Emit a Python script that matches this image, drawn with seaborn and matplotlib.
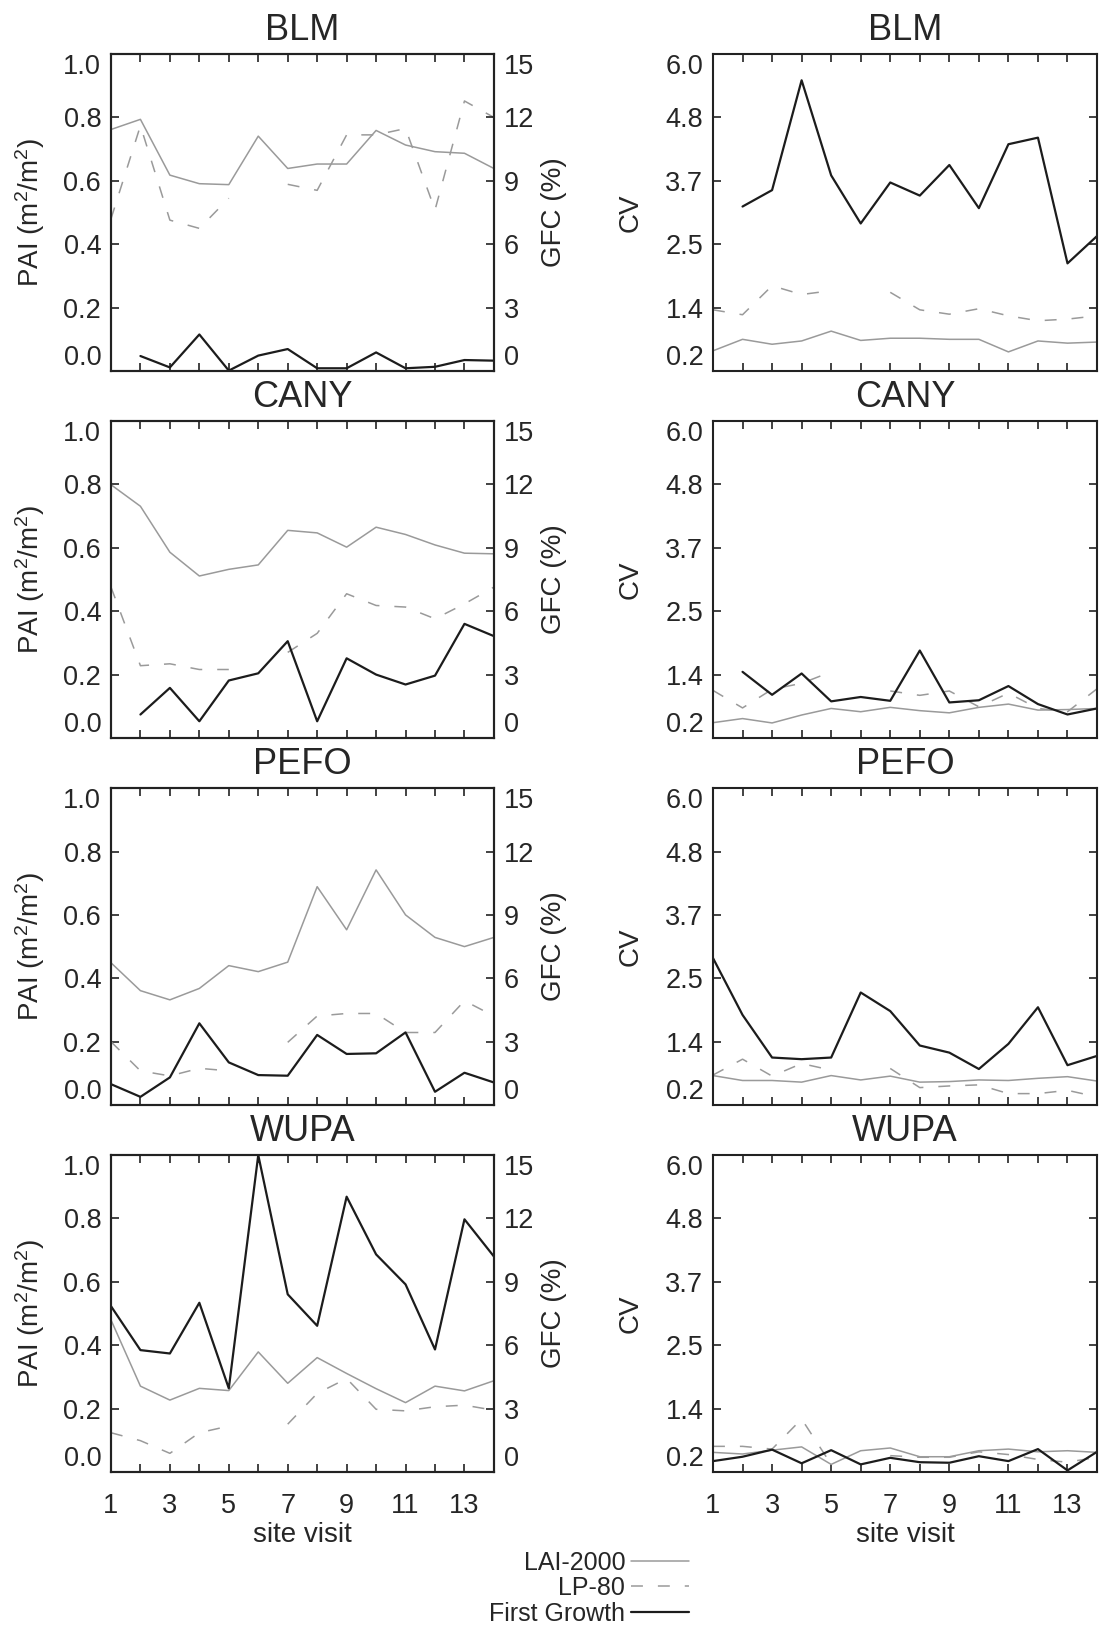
import numpy as np
import pandas as pd
import matplotlib
matplotlib.use("Agg")
import matplotlib.pyplot as plt
import seaborn as sns
from matplotlib.lines import Line2D

nan = np.nan

# ---------------- data ----------------
visits = list(range(1, 15))
sites = ["BLM", "CANY", "PEFO", "WUPA"]
series_names = ["LAI-2000", "LP-80", "First Growth"]

# PAI (m2/m2) from LAI-2000 and LP-80, GFC (%) from First Growth
pai_lai_blm = [0.762, 0.794, 0.618, 0.591, 0.588, 0.741, 0.639, 0.653, 0.653, 0.759, 0.713, 0.692, 0.687, 0.639]
pai_lp_blm = [0.48, 0.774, 0.476, 0.45, 0.545, nan, 0.589, 0.57, 0.745, 0.745, 0.765, 0.508, 0.852, 0.80]
gfc_fg_blm = [nan, 0.71, 0.17, 1.73, 0.02, 0.73, 1.04, 0.13, 0.13, 0.88, 0.13, 0.20, 0.52, 0.49]

pai_lai_cany = [0.799, 0.731, 0.586, 0.511, 0.532, 0.546, 0.655, 0.647, 0.602, 0.665, 0.642, 0.609, 0.583, 0.581]
pai_lp_cany = [0.476, 0.228, 0.234, 0.216, 0.216, nan, 0.27, 0.33, 0.455, 0.418, 0.413, 0.376, 0.423, 0.476]
gfc_fg_cany = [nan, 1.11, 2.37, 0.79, 2.72, 3.06, 4.58, 0.79, 3.77, 3.00, 2.53, 2.95, 5.40, 4.82]

pai_lai_pefo = [0.449, 0.361, 0.332, 0.368, 0.44, 0.421, 0.451, 0.689, 0.553, 0.742, 0.60, 0.529, 0.50, 0.529]
pai_lp_pefo = [0.20, 0.108, 0.092, 0.116, 0.108, nan, 0.198, 0.281, 0.289, 0.289, 0.229, 0.229, 0.329, 0.281]
gfc_fg_pefo = [0.99, 0.39, 1.31, 3.87, 2.02, 1.42, 1.39, 3.32, 2.42, 2.45, 3.44, 0.63, 1.53, 1.07]

pai_lai_wupa = [0.48, 0.271, 0.227, 0.264, 0.257, 0.379, 0.28, 0.361, 0.311, 0.263, 0.219, 0.271, 0.256, 0.288]
pai_lp_wupa = [0.124, 0.099, 0.059, 0.124, 0.145, nan, 0.151, 0.248, 0.295, 0.198, 0.193, 0.206, 0.211, 0.195]
gfc_fg_wupa = [7.85, 5.77, 5.61, 8.01, 3.96, 15.0, 8.41, 6.92, 13.03, 10.3, 8.88, 5.80, 11.96, 10.2]

# CV
cv_lai_blm = [0.57, 0.78, 0.69, 0.75, 0.93, 0.76, 0.80, 0.80, 0.78, 0.78, 0.55, 0.75, 0.71, 0.73]
cv_lp_blm = [1.32, 1.23, 1.76, 1.60, 1.67, nan, 1.64, 1.32, 1.24, 1.34, 1.21, 1.12, 1.15, 1.21]
cv_fg_blm = [nan, 3.21, 3.51, 5.52, 3.78, 2.90, 3.65, 3.41, 3.97, 3.18, 4.35, 4.47, 2.17, 2.67]

cv_lai_cany = [0.48, 0.555, 0.475, 0.62, 0.74, 0.68, 0.76, 0.70, 0.66, 0.76, 0.82, 0.71, 0.72, 0.74]
cv_lp_cany = [1.07, 0.75, 1.09, 1.20, 1.41, nan, 1.06, 0.98, 1.06, 0.77, 1.02, 0.74, 0.68, 1.10]
cv_fg_cany = [nan, 1.41, 0.99, 1.38, 0.87, 0.95, 0.88, 1.80, 0.85, 0.89, 1.15, 0.82, 0.63, 0.74]

cv_lai_pefo = [0.74, 0.65, 0.65, 0.62, 0.74, 0.66, 0.73, 0.62, 0.63, 0.66, 0.65, 0.69, 0.72, 0.64]
cv_lp_pefo = [0.75, 1.04, 0.73, 0.96, 0.84, nan, 0.87, 0.52, 0.55, 0.57, 0.41, 0.41, 0.47, 0.35]
cv_fg_pefo = [2.89, 1.85, 1.07, 1.04, 1.07, 2.26, 1.92, 1.29, 1.16, 0.86, 1.32, 1.99, 0.93, 1.10]

cv_lai_wupa = [0.56, 0.53, 0.60, 0.66, 0.34, 0.59, 0.64, 0.48, 0.48, 0.59, 0.62, 0.57, 0.59, 0.56]
cv_lp_wupa = [0.67, 0.67, 0.62, 1.17, 0.34, nan, 0.50, 0.47, 0.47, 0.57, 0.52, 0.43, 0.38, 0.47]
cv_fg_wupa = [0.40, 0.48, 0.61, 0.36, 0.60, 0.34, 0.46, 0.38, 0.37, 0.49, 0.40, 0.62, 0.23, 0.57]

pai_lai = [pai_lai_blm, pai_lai_cany, pai_lai_pefo, pai_lai_wupa]
pai_lp = [pai_lp_blm, pai_lp_cany, pai_lp_pefo, pai_lp_wupa]
gfc_fg = [gfc_fg_blm, gfc_fg_cany, gfc_fg_pefo, gfc_fg_wupa]
cv_lai = [cv_lai_blm, cv_lai_cany, cv_lai_pefo, cv_lai_wupa]
cv_lp = [cv_lp_blm, cv_lp_cany, cv_lp_pefo, cv_lp_wupa]
cv_fg = [cv_fg_blm, cv_fg_cany, cv_fg_pefo, cv_fg_wupa]

pai_ticks = [0.0, 0.2, 0.4, 0.6, 0.8, 1.0]
pai_ticklabels = ["0.0", "0.2", "0.4", "0.6", "0.8", "1.0"]
gfc_ticks = [0, 3, 6, 9, 12, 15]
gfc_ticklabels = ["0", "3", "6", "9", "12", "15"]
cv_ticks = [0.2, 1.36, 2.52, 3.68, 4.84, 6.0]
cv_ticklabels = ["0.2", "1.4", "2.5", "3.7", "4.8", "6.0"]

# ---------------- style ----------------
sns.set_theme(style="white")
plt.rcParams["font.family"] = ["Liberation Sans", "DejaVu Sans"]
plt.rcParams["mathtext.fontset"] = "custom"
plt.rcParams["mathtext.rm"] = "Liberation Sans"
plt.rcParams["mathtext.it"] = "Liberation Sans"
plt.rcParams["mathtext.default"] = "regular"

C_LAI = "#9a9a9a"
C_LP = "#9a9a9a"
C_FG = "#1c1c1c"
LW_LAI = 1.1
LW_LP = 1.1
LW_FG = 1.6
DASH = (0, (7.8, 9.8))
FRAME = "#222222"
TICK_FS = 19.5
LABEL_FS = 20
TITLE_FS = 26

fig = plt.figure(figsize=(11.02, 16.28), dpi=100)

bottoms = [0.7721, 0.5467, 0.3212, 0.0958]
H = 0.1947
LEFT_X, LEFT_W = 0.1007, 0.3475
RIGHT_X, RIGHT_W = 0.647, 0.3485


def seg_frame(values):
    df = pd.DataFrame({"visit": visits, "value": values})
    df["seg"] = df["value"].isna().cumsum()
    return df.dropna()


def draw(ax, values, color, lw, ls="-"):
    sns.lineplot(data=seg_frame(values), x="visit", y="value", units="seg",
                 estimator=None, ax=ax, color=color, linewidth=lw,
                 linestyle=ls, legend=False, sort=True)


def style_frame(ax):
    for sp in ax.spines.values():
        sp.set_visible(True)
        sp.set_color(FRAME)
        sp.set_linewidth(1.5)


def set_xaxis(ax, bottom_row):
    ax.set_xlim(1, 14)
    ax.set_xticks(visits)
    ax.set_xticklabels([str(v) if v % 2 == 1 else "" for v in visits])
    ax.tick_params(axis="x", direction="in", length=6, width=1.2, color=FRAME,
                   top=True, bottom=True, labelbottom=bottom_row,
                   labelsize=TICK_FS, pad=15)
    if bottom_row:
        ax.set_xlabel("site visit", fontsize=LABEL_FS)
        ax.xaxis.set_label_coords(0.5, -0.158)
    else:
        ax.set_xlabel("")


def end_align(ax_axis_labels):
    ax_axis_labels[0].set_va("bottom")
    ax_axis_labels[-1].set_va("top")


for i, site in enumerate(sites):
    bottom_row = i == len(sites) - 1

    # ---- left: PAI / GFC ----
    ax = fig.add_axes([LEFT_X, bottoms[i], LEFT_W, H])
    ax2 = ax.twinx()
    draw(ax, pai_lai[i], C_LAI, LW_LAI)
    draw(ax, pai_lp[i], C_LP, LW_LP, DASH)
    draw(ax2, gfc_fg[i], C_FG, LW_FG)
    ax.set_ylim(0, 1.0)
    ax2.set_ylim(0, 15)
    ax.set_yticks(pai_ticks)
    ax.set_yticklabels(pai_ticklabels)
    ax2.set_yticks(gfc_ticks)
    ax2.set_yticklabels(gfc_ticklabels)
    set_xaxis(ax, bottom_row)
    ax2.set_xlim(1, 14)
    ax.tick_params(axis="y", direction="in", length=6, width=1.2, color=FRAME,
                   left=True, right=False, labelsize=TICK_FS, pad=7)
    ax2.tick_params(axis="y", direction="in", length=6, width=1.2, color=FRAME,
                    left=False, right=True, labelsize=TICK_FS, pad=7)
    ax.set_ylabel("PAI (m$^{2}$/m$^{2}$)", fontsize=LABEL_FS)
    ax.yaxis.set_label_coords(-0.167, 0.5)
    ax2.set_ylabel("GFC (%)", fontsize=LABEL_FS)
    ax2.yaxis.set_label_coords(1.122, 0.5)
    ax.set_title(site, fontsize=TITLE_FS, pad=10)
    style_frame(ax)
    style_frame(ax2)
    end_align(ax.get_yticklabels())
    end_align(ax2.get_yticklabels())

    # ---- right: CV ----
    bx = fig.add_axes([RIGHT_X, bottoms[i], RIGHT_W, H])
    draw(bx, cv_lai[i], C_LAI, LW_LAI)
    draw(bx, cv_lp[i], C_LP, LW_LP, DASH)
    draw(bx, cv_fg[i], C_FG, LW_FG)
    bx.set_ylim(0.2, 6.0)
    bx.set_yticks(cv_ticks)
    bx.set_yticklabels(cv_ticklabels)
    set_xaxis(bx, bottom_row)
    bx.tick_params(axis="y", direction="in", length=6, width=1.2, color=FRAME,
                   left=True, right=True, labelright=False,
                   labelsize=TICK_FS, pad=7)
    bx.set_ylabel("CV", fontsize=LABEL_FS)
    bx.yaxis.set_label_coords(-0.18, 0.5)
    bx.set_title(site, fontsize=TITLE_FS, pad=10)
    style_frame(bx)
    end_align(bx.get_yticklabels())

# ---------------- legend ----------------
handles = [
    Line2D([], [], color=C_LAI, linewidth=LW_LAI),
    Line2D([], [], color=C_LP, linewidth=LW_LP, linestyle=DASH),
    Line2D([], [], color=C_FG, linewidth=LW_FG),
]
fig.legend(handles, series_names, loc="upper right",
           bbox_to_anchor=(0.6252, 0.0475), frameon=False, markerfirst=False,
           fontsize=18, handlelength=2.3, handletextpad=0.25,
           labelspacing=0.06, borderpad=0, borderaxespad=0)

fig.savefig("out.png", dpi=100)
